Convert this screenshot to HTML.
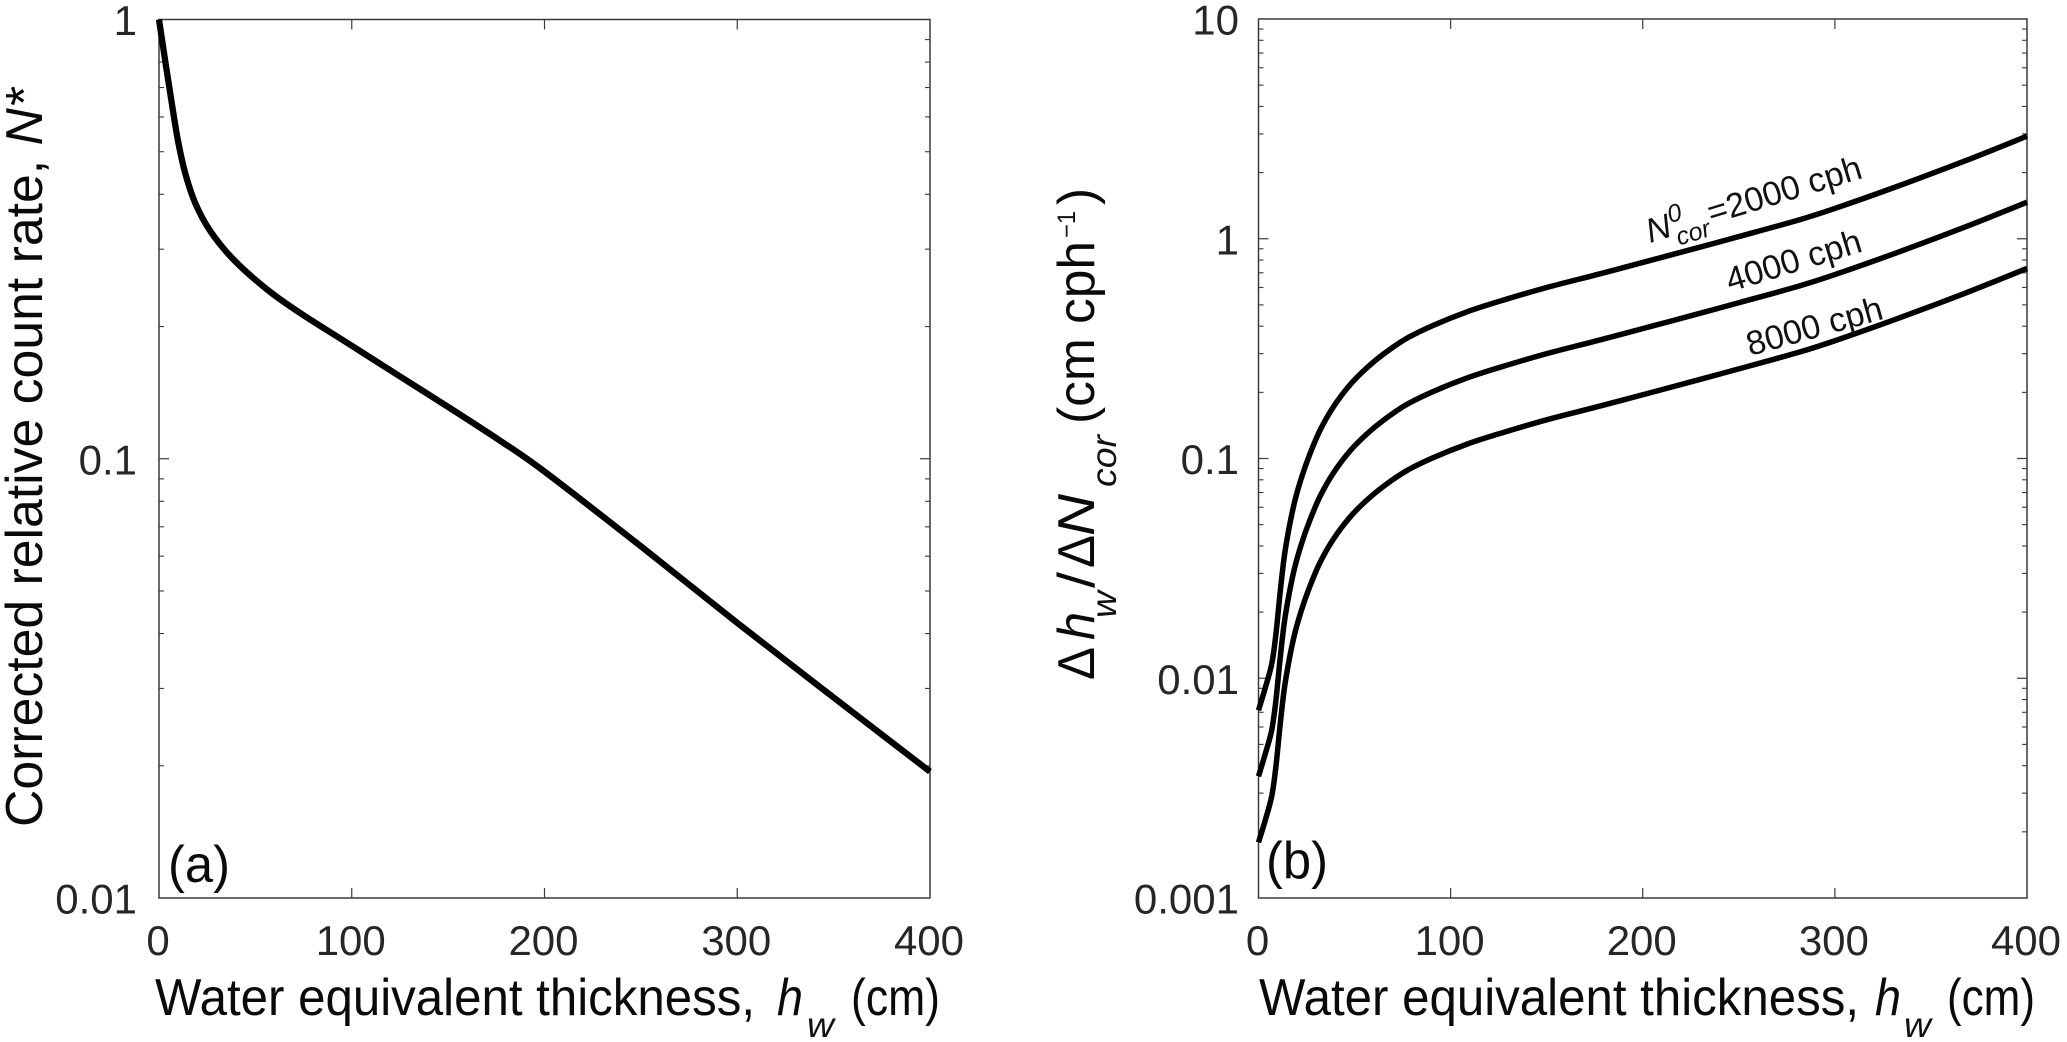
<!DOCTYPE html>
<html lang="en">
<head>
<meta charset="utf-8">
<title>Corrected relative count rate and sensitivity versus water equivalent thickness</title>
<style>
html,body{margin:0;padding:0;background:#fff;}
svg{display:block;}
text{font-family:"Liberation Sans",sans-serif;fill:#111;}
.tick{font-size:42px;fill:#262626;}
.lab{font-size:52px;fill:#0a0a0a;}
.it{font-style:italic;}
.sub{font-size:35px;}
.cl{font-size:34px;fill:#111;}
</style>
</head>
<body>
<svg id="fig" width="2067" height="1042" viewBox="0 0 2067 1042" xmlns="http://www.w3.org/2000/svg">
  <rect width="2067" height="1042" fill="#fff"/>
  <g id="panelA"></g>
  <g id="panelB"></g>

  <g>
    <text class="lab" x="155" y="1015" textLength="600" lengthAdjust="spacingAndGlyphs">Water equivalent thickness,</text>
    <text class="lab it" x="777" y="1015" textLength="26" lengthAdjust="spacingAndGlyphs">h</text>
    <text class="sub it" x="807" y="1037" textLength="27" lengthAdjust="spacingAndGlyphs">w</text>
    <text class="lab" x="851" y="1015" textLength="89" lengthAdjust="spacingAndGlyphs">(cm)</text>
  </g>
  <g>
    <text class="lab" x="1259" y="1015" textLength="600" lengthAdjust="spacingAndGlyphs">Water equivalent thickness,</text>
    <text class="lab it" x="1875" y="1015" textLength="26" lengthAdjust="spacingAndGlyphs">h</text>
    <text class="sub it" x="1904" y="1037" textLength="27" lengthAdjust="spacingAndGlyphs">w</text>
    <text class="lab" x="1947" y="1015" textLength="88" lengthAdjust="spacingAndGlyphs">(cm)</text>
  </g>

  <text class="lab" transform="translate(42,827) rotate(-90)" textLength="739" lengthAdjust="spacingAndGlyphs">Corrected relative count rate, <tspan class="it">N*</tspan></text>

  <g>
    <text class="lab" transform="translate(1094,680) rotate(-90)" textLength="33" lengthAdjust="spacingAndGlyphs">Δ</text>
    <text class="lab it" transform="translate(1094,640) rotate(-90)" textLength="28" lengthAdjust="spacingAndGlyphs">h</text>
    <text class="sub it" transform="translate(1116,618) rotate(-90)" textLength="27" lengthAdjust="spacingAndGlyphs">w</text>
    <text class="lab" transform="translate(1094,588) rotate(-90)" textLength="16" lengthAdjust="spacingAndGlyphs">/</text>
    <text class="lab" transform="translate(1094,568) rotate(-90)" textLength="33" lengthAdjust="spacingAndGlyphs">Δ</text>
    <text class="lab it" transform="translate(1094,536) rotate(-90)" textLength="42" lengthAdjust="spacingAndGlyphs">N</text>
    <text class="sub it" transform="translate(1116,487) rotate(-90)" textLength="52" lengthAdjust="spacingAndGlyphs">cor</text>
    <text class="lab" transform="translate(1094,424) rotate(-90)" textLength="183" lengthAdjust="spacingAndGlyphs">(cm cph</text>
    <text class="sub" style="font-size:25px" transform="translate(1075,238) rotate(-90)" textLength="27" lengthAdjust="spacingAndGlyphs">−1</text>
    <text class="lab" transform="translate(1094,205) rotate(-90)" textLength="17" lengthAdjust="spacingAndGlyphs">)</text>
  </g>

  <text class="lab" x="168" y="882" textLength="62" lengthAdjust="spacingAndGlyphs">(a)</text>
  <text class="lab" x="1266" y="878" textLength="62" lengthAdjust="spacingAndGlyphs">(b)</text>

  <g transform="translate(1650,243) rotate(-17)">
    <text class="cl it" x="0" y="0">N</text>
    <text class="it" font-size="25" x="25" y="-13">0</text>
    <text class="it" font-size="25" x="27" y="11">cor</text>
    <text class="cl" x="64" y="0">=2000 cph</text>
  </g>
  <text class="cl" transform="translate(1730,292) rotate(-17)">4000 cph</text>
  <text class="cl" transform="translate(1750,356) rotate(-15.5)">8000 cph</text>
</svg>

<script>
// Panel (a) data
const thicknessA = [0,3.6,6.8,9.8,13.6,18.8,26.6,38.7,56,73,99,125,150,177,200,250,300,350,400];
const relativeCountRate = [1,.785,.638,.531,.447,.382,.33,.284,.243,.215,.182,.154,.1312,.1099,.0935,.0632,.0423,.0286,.0194];

// Panel (b) data
const thicknessB = [0,3.4,6.9,9.1,11.2,13.4,16,19,22.5,26.5,32,38.9,47.6,56.3,65,77,91,108.4,125.7,150,177,200,229,250,281,300,333,368,400];
const sensitivity2000 = [.00715,.00897,.01164,.01596,.02427,.03565,.04875,.06457,.08241,.1035,.1343,.1714,.2163,.2582,.2985,.3516,.4036,.4645,.52,.6,.69,.78,.912,1.023,1.216,1.374,1.738,2.265,2.931];
const sensitivity4000 = [.00358,.00449,.00582,.00798,.01214,.01783,.02438,.03229,.04121,.05175,.06715,.0857,.10815,.1291,.14925,.1758,.2018,.2323,.26,.3,.345,.39,.456,.5115,.608,.687,.869,1.133,1.466];
const sensitivity8000 = [.00179,.00224,.00291,.00399,.00607,.00891,.01219,.01614,.0206,.02588,.03358,.04285,.05408,.06455,.07463,.0879,.1009,.1161,.13,.15,.1725,.195,.228,.2558,.304,.3435,.4345,.5663,.7328];

// Axis ticks
const xTickValues = [0,100,200,300,400];
const xTickLabels = ['0','100','200','300','400'];
const yTickValuesA = [1,0.1,0.01];
const yTickLabelsA = ['1','0.1','0.01'];
const yTickValuesB = [10,1,0.1,0.01,0.001];
const yTickLabelsB = ['10','1','0.1','0.01','0.001'];
const minorFactors = [2,3,4,5,6,7,8,9];

const NS = 'http://www.w3.org/2000/svg';

function make(tag, attrs, parent){
  const el = document.createElementNS(NS, tag);
  for (const k in attrs) el.setAttribute(k, attrs[k]);
  parent.appendChild(el);
  return el;
}

function smoothPath(pts){
  let d = 'M' + pts[0][0].toFixed(2) + ' ' + pts[0][1].toFixed(2);
  for (let i = 0; i < pts.length - 1; i++){
    const p0 = pts[Math.max(i - 1, 0)], p1 = pts[i], p2 = pts[i + 1], p3 = pts[Math.min(i + 2, pts.length - 1)];
    const c1x = p1[0] + (p2[0] - p0[0]) / 6, c1y = p1[1] + (p2[1] - p0[1]) / 6;
    const c2x = p2[0] - (p3[0] - p1[0]) / 6, c2y = p2[1] - (p3[1] - p1[1]) / 6;
    d += 'C' + c1x.toFixed(2) + ' ' + c1y.toFixed(2) + ' ' + c2x.toFixed(2) + ' ' + c2y.toFixed(2) + ' ' + p2[0].toFixed(2) + ' ' + p2[1].toFixed(2);
  }
  return d;
}

function drawPanel(parent, box, yMin, yMax, yVals, yLabels, labelRight, curves){
  const xScale = v => box.left + (v / 400) * (box.right - box.left);
  const yScale = v => box.bottom - (Math.log10(v) - Math.log10(yMin)) / (Math.log10(yMax) - Math.log10(yMin)) * (box.bottom - box.top);
  const axisColor = '#3a3a3a';

  const frame = make('rect', {x: box.left, y: box.top, width: box.right - box.left, height: box.bottom - box.top, fill: 'none', stroke: axisColor, 'stroke-width': 1.5}, parent);
  
  

  xTickValues.forEach((v, i) => {
    const x = xScale(v);
    if (i > 0 && i < xTickValues.length - 1){
      const t1 = make('line', {x1: x, x2: x, y1: box.bottom, y2: box.bottom - 10, stroke: axisColor, 'stroke-width': 1.2}, parent);
      
      
      const t2 = make('line', {x1: x, x2: x, y1: box.top, y2: box.top + 10, stroke: axisColor, 'stroke-width': 1.2}, parent);
      
      
    }
    const lab = make('text', {class: 'tick', x: x - 1, y: 955, 'text-anchor': 'middle'}, parent);
    
    
    lab.textContent = xTickLabels[i];
  });

  yVals.forEach((v, i) => {
    const y = yScale(v);
    if (v !== yMin && v !== yMax){
      const a = make('line', {x1: box.left, x2: box.left + 10, y1: y, y2: y, stroke: axisColor, 'stroke-width': 1.2}, parent);
      
      
      const b = make('line', {x1: box.right, x2: box.right - 10, y1: y, y2: y, stroke: axisColor, 'stroke-width': 1.2}, parent);
      
      
    }
    const lab = make('text', {class: 'tick', x: labelRight, y: y + 15.5, 'text-anchor': 'end'}, parent);
    
    
    lab.textContent = yLabels[i];

    if (v !== yMax){
      minorFactors.forEach(f => {
        const my = yScale(v * f);
        const m1 = make('line', {x1: box.left, x2: box.left + 5, y1: my, y2: my, stroke: axisColor, 'stroke-width': 1.1}, parent);
        
        
        const m2 = make('line', {x1: box.right, x2: box.right - 5, y1: my, y2: my, stroke: axisColor, 'stroke-width': 1.1}, parent);
        
        
      });
    }
  });

  curves.forEach(c => {
    const pts = c.xs.map((x, i) => [xScale(x), yScale(c.ys[i])]);
    const path = make('path', {d: smoothPath(pts), fill: 'none', stroke: '#000', 'stroke-width': c.w, 'stroke-linecap': 'butt', 'stroke-linejoin': 'round'}, parent);
    
    
  });
}

drawPanel(document.getElementById('panelA'),
  {left: 159, right: 930, top: 19.5, bottom: 898},
  0.01, 1, yTickValuesA, yTickLabelsA, 137,
  [{xs: thicknessA, ys: relativeCountRate, w: 6.3, name: 'count-rate-curve'}]);

drawPanel(document.getElementById('panelB'),
  {left: 1258.5, right: 2027, top: 19, bottom: 898},
  0.001, 10, yTickValuesB, yTickLabelsB, 1239,
  [{xs: thicknessB, ys: sensitivity2000, w: 5.5, name: 'sensitivity-curve-2000-cph'},
   {xs: thicknessB, ys: sensitivity4000, w: 5.5, name: 'sensitivity-curve-4000-cph'},
   {xs: thicknessB, ys: sensitivity8000, w: 5.5, name: 'sensitivity-curve-8000-cph'}]);
</script>
</body>
</html>
